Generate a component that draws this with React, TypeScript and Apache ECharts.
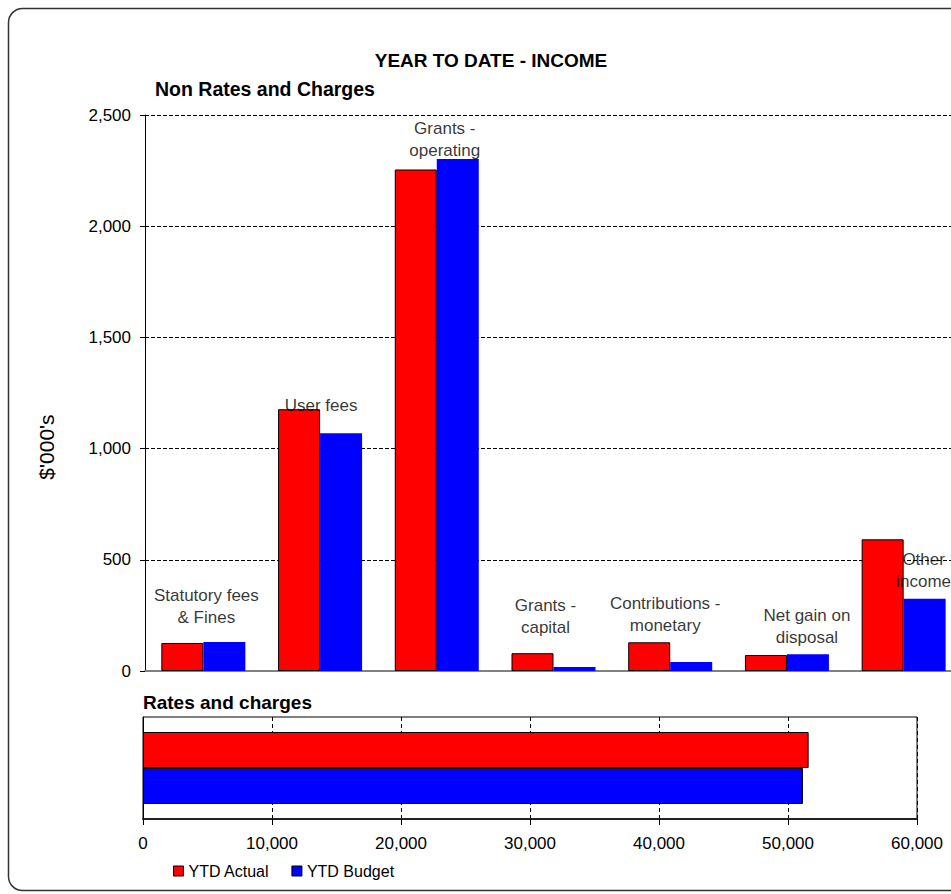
import React, { useEffect, useRef } from "react";
import * as echarts from "echarts";

const categories = [
  "Statutory fees\n& Fines",
  "User fees",
  "Grants -\noperating",
  "Grants -\ncapital",
  "Contributions -\nmonetary",
  "Net gain on\ndisposal",
  "Other\nincome",
];
const ytdActual = [126, 1177, 2255, 80, 129, 72, 592];
const ytdBudget = [130, 1069, 2302, 18, 40, 75, 325];
const labelLevels = [290, 1196, 2392, 243, 256, 202, 454];
const ratesCategory = ["Rates and charges"];
const ratesActual = [51600];
const ratesBudget = [51160];
const seriesNames = ["YTD Actual", "YTD Budget"];

const FONT = "'Liberation Sans', Arial, sans-serif";
const labelDx = [3, 1, 8, -8, -5, 20, 20];

const fmt = (v: number) => Math.round(v).toLocaleString("en-US");

export default function App() {
  const ref = useRef<HTMLDivElement>(null);
  useEffect(() => {
    document.body.style.margin = "0";
    document.body.style.overflow = "hidden";
    document.documentElement.style.overflow = "hidden";
    if (!ref.current) return;
    const chart = echarts.init(ref.current, undefined, { renderer: "svg" });
    chart.setOption({
      animation: false,
      backgroundColor: "#fff",
      textStyle: { fontFamily: FONT, color: "#000" },
      grid: [
        { left: 145, top: 115, width: 817, height: 556, containLabel: false },
        { left: 143, top: 717, width: 774, height: 102, show: true, borderColor: "#000", borderWidth: 1, backgroundColor: "transparent" },
      ],
      xAxis: [
        {
          type: "category",
          gridIndex: 0,
          data: categories,
          axisLine: { show: true, lineStyle: { color: "#808080", width: 2 } },
          axisTick: { show: false },
          axisLabel: { show: false },
          splitLine: { show: false },
        },
        {
          type: "value",
          gridIndex: 1,
          min: 0,
          max: 60000,
          interval: 10000,
          axisLine: { show: true, lineStyle: { color: "#222", width: 2 } },
          axisTick: { show: true, length: 6, lineStyle: { color: "#000" } },
          axisLabel: { formatter: fmt, fontSize: 17, color: "#000", fontFamily: FONT, margin: 16 },
          splitLine: { show: true, lineStyle: { color: "#000", type: [4, 3], width: 1 } },
        },
      ],
      yAxis: [
        {
          type: "value",
          gridIndex: 0,
          min: 0,
          max: 2500,
          interval: 500,
          axisLine: { show: true, lineStyle: { color: "#000", width: 1 } },
          axisTick: { show: true, length: 5, lineStyle: { color: "#000" } },
          axisLabel: { formatter: fmt, fontSize: 17, color: "#000", fontFamily: FONT, margin: 14 },
          splitLine: { show: true, lineStyle: { color: "#000", type: [4, 2], width: 1 } },
        },
        {
          type: "category",
          gridIndex: 1,
          data: ratesCategory,
          inverse: true,
          axisLine: { show: true, lineStyle: { color: "#000", width: 1 } },
          axisTick: { show: false },
          axisLabel: { show: false },
          splitLine: { show: false },
        },
      ],
      legend: {
        data: seriesNames,
        left: 168,
        top: 858,
        icon: "rect",
        itemWidth: 10,
        itemHeight: 10,
        itemGap: 22,
        textStyle: { fontSize: 16, color: "#000", fontFamily: FONT },
        itemStyle: { borderColor: "#000", borderWidth: 1 },
      },
      series: [
        {
          name: seriesNames[0],
          type: "bar",
          xAxisIndex: 0,
          yAxisIndex: 0,
          data: ytdActual,
          barWidth: 42,
          barGap: "0%",
          itemStyle: { color: "#FF0000", borderColor: "#000", borderWidth: 1 },
        },
        {
          name: seriesNames[1],
          type: "bar",
          xAxisIndex: 0,
          yAxisIndex: 0,
          data: ytdBudget,
          barWidth: 42,
          barGap: "0%",
          itemStyle: { color: "#0000FF", borderWidth: 0 },
        },
        {
          name: "labels",
          type: "scatter",
          xAxisIndex: 0,
          yAxisIndex: 0,
          symbolSize: 1,
          itemStyle: { color: "transparent" },
          z: 5,
          data: labelLevels.map((v, i) => ({
            value: [i, v],
            label: { offset: [labelDx[i], 0] },
          })),
          label: {
            show: true,
            position: "inside",
            formatter: (p: any) => categories[p.dataIndex],
            fontSize: 17,
            lineHeight: 22,
            color: "#000",
            fontFamily: FONT,
            align: "center",
          },
          silent: true,
        },
        {
          name: seriesNames[0],
          type: "bar",
          xAxisIndex: 1,
          yAxisIndex: 1,
          data: ratesActual,
          barWidth: 36,
          barGap: "0%",
          itemStyle: { color: "#FF0000", borderColor: "#000", borderWidth: 1 },
        },
        {
          name: seriesNames[1],
          type: "bar",
          xAxisIndex: 1,
          yAxisIndex: 1,
          data: ratesBudget,
          barWidth: 36,
          barGap: "0%",
          itemStyle: { color: "#0000FF", borderColor: "#000", borderWidth: 1 },
        },
      ],
      graphic: [
        {
          type: "rect",
          shape: { x: 8.5, y: 8.5, width: 1000, height: 882, r: 14 },
          style: { fill: "transparent", stroke: "#333", lineWidth: 1.5 },
          silent: true,
          z: -1,
        },
        {
          type: "text",
          x: 491,
          y: 60,
          style: { text: "YEAR TO DATE - INCOME", fontSize: 19, fontWeight: "bold", fill: "#000", fontFamily: FONT, align: "center", verticalAlign: "middle" },
        },
        {
          type: "text",
          x: 155,
          y: 89,
          style: { text: "Non Rates and Charges", fontSize: 19.5, fontWeight: "bold", fill: "#000", fontFamily: FONT, align: "left", verticalAlign: "middle" },
        },
        {
          type: "text",
          x: 143,
          y: 702,
          style: { text: "Rates and charges", fontSize: 19, fontWeight: "bold", fill: "#000", fontFamily: FONT, align: "left", verticalAlign: "middle" },
        },
        {
          type: "text",
          x: 46,
          y: 447,
          rotation: Math.PI / 2,
          style: { text: "$'000's", fontSize: 21, fill: "#000", fontFamily: FONT, align: "center", verticalAlign: "middle" },
        },
      ],
    });
    return () => chart.dispose();
  }, []);
  return <div ref={ref} style={{ width: 975, height: 894 }} />;
}
